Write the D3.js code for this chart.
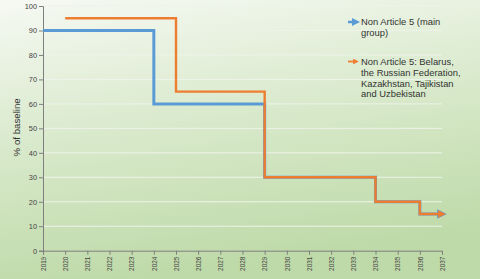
<!DOCTYPE html>
<html>
<head>
<meta charset="utf-8">
<script src="https://cdn.jsdelivr.net/npm/d3@7"></script>
<style>
  body { margin: 0; padding: 0; overflow: hidden; }
  svg { display: block; font-family: "Liberation Sans", Arial, sans-serif; }
</style>
</head>
<body>
<div id="chart"></div>
<script>
var years = d3.range(2019, 2038);
var yTicks = [0, 10, 20, 30, 40, 50, 60, 70, 80, 90, 100];

// step data: [year, value]
var mainYears  = [2019, 2024, 2029, 2034, 2036, 2037];
var mainValues = [90, 60, 30, 20, 15, 15];
var subYears   = [2020, 2025, 2029, 2034, 2036, 2037];
var subValues  = [95, 65, 30, 20, 15, 15];

var legendLines = [["Non Article 5 (main", "group)"],
  ["Non Article 5: Belarus,", "the Russian Federation,", "Kazakhstan, Tajikistan", "and Uzbekistan"]];
var colors = ["#5b9bd5", "#ed7d31"];

var width = 480, height = 279;
var margin = {top: 6, left: 43, bottom: 28, right: 38};

var svg = d3.select("#chart").append("svg")
    .attr("width", width).attr("height", height);

var defs = svg.append("defs");
var grad = defs.append("linearGradient").attr("id", "bg")
    .attr("x1", "0").attr("y1", "0").attr("x2", "0.25").attr("y2", "1");
grad.append("stop").attr("offset", "0").attr("stop-color", "#f6f9f3");
grad.append("stop").attr("offset", "0.55").attr("stop-color", "#d6e8c8");
grad.append("stop").attr("offset", "1").attr("stop-color", "#bfdaa9");

colors.forEach(function(c, i) {
  defs.append("marker").attr("id", "arrow" + i)
      .attr("viewBox", "0 0 10 10").attr("refX", 5).attr("refY", 5)
      .attr("markerWidth", 3.2).attr("markerHeight", 3.2)
      .attr("orient", "auto")
    .append("path").attr("d", "M0,0L10,5L0,10z").attr("fill", c);
});

svg.append("rect").attr("width", width).attr("height", height).attr("fill", "url(#bg)");

var x = d3.scaleLinear().domain([2019, 2037]).range([margin.left, width - margin.right]);
var y = d3.scaleLinear().domain([0, 100]).range([height - margin.bottom - 0.3, margin.top]);

// grid
svg.append("g").selectAll("line").data(yTicks.slice(1)).join("line")
    .attr("x1", x(2019)).attr("x2", x(2037))
    .attr("y1", function(d) { return y(d); }).attr("y2", function(d) { return y(d); })
    .attr("stroke", "#eef3ea").attr("stroke-width", 1);

// axes
var yAxis = svg.append("g").attr("transform", "translate(" + x(2019) + ",0)")
    .call(d3.axisLeft(y).tickValues(yTicks).tickSize(4).tickPadding(2));
var xAxis = svg.append("g").attr("transform", "translate(0," + y(0) + ")")
    .call(d3.axisBottom(x).tickValues(years).tickFormat(d3.format("d")).tickSize(4));
[yAxis, xAxis].forEach(function(a) {
  a.selectAll("path.domain").attr("stroke", "#7f7f7f");
  a.selectAll(".tick line").attr("stroke", "#7f7f7f");
  a.selectAll("text").attr("fill", "#444").attr("font-size", 7.4)
      .attr("font-family", "Liberation Sans, Arial, sans-serif");
});
xAxis.selectAll("text").attr("font-size", 6.4)
    .attr("transform", "rotate(-90)").attr("text-anchor", "end")
    .attr("x", -6).attr("y", 0).attr("dy", "0.35em");

svg.append("text")
    .attr("transform", "translate(20," + (y(50) - 1) + ") rotate(-90)")
    .attr("text-anchor", "middle").attr("font-size", 9.7).attr("fill", "#333")
    .text("% of baseline");

// step lines
var line = d3.line().x(function(d) { return x(d[0]); }).y(function(d) { return y(d[1]); })
    .curve(d3.curveStepAfter);
var data = [d3.zip(mainYears, mainValues), d3.zip(subYears, subValues)];
var widths = [3, 2.4];
data.forEach(function(d, i) {
  svg.append("path").datum(d).attr("d", line)
      .attr("fill", "none").attr("stroke", colors[i]).attr("stroke-width", widths[i])
      .attr("marker-end", "url(#arrow" + i + ")");
});

// legend
var leg = svg.append("g");
var legY = [22, 61.5];
legendLines.forEach(function(lines, i) {
  leg.append("line").attr("x1", 348).attr("x2", 356)
      .attr("y1", legY[i]).attr("y2", legY[i])
      .attr("stroke", colors[i]).attr("stroke-width", i === 0 ? 2.5 : 1.8)
      .attr("marker-end", "url(#arrow" + i + ")");
  var t = leg.append("text").attr("x", 361).attr("y", legY[i])
      .attr("font-size", 9.4).attr("fill", "#333");
  lines.forEach(function(s, j) {
    t.append("tspan").attr("x", 361).attr("dy", j === 0 ? "0.35em" : 10.9).text(s);
  });
});
</script>
</body>
</html>
